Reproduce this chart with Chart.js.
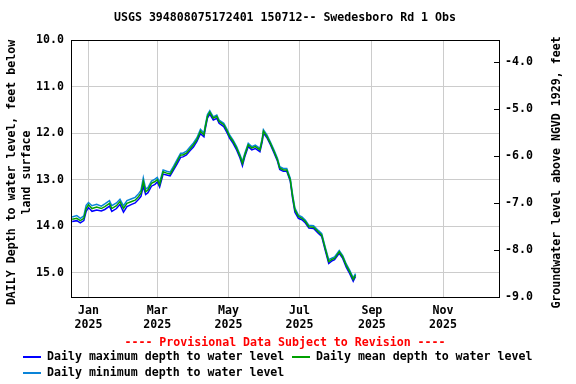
<!DOCTYPE html>
<html>
<head>
<meta charset="utf-8">
<script src="https://cdn.jsdelivr.net/npm/chart.js@4.4.1/dist/chart.umd.min.js"></script>
<style>
  body { margin: 0; background: #fff; }
  canvas { display: block; }
</style>
</head>
<body>
<canvas id="gwChart" width="576" height="384"></canvas>
<script>
// days since 1 Jan 2025
const days = [-14, -10, -7, -4, -2, 0, 3, 7, 11, 14, 18, 20, 24, 27, 30, 33, 37, 40, 43, 45,
  47, 49, 51, 54, 57, 59, 61, 64, 67, 70, 73, 76, 79, 81, 84, 87, 90, 93, 96, 99,
  100, 102, 104, 107, 110, 112, 116, 119, 121, 124, 127, 130, 132, 134, 137, 140, 143, 147, 149, 150,
  153, 156, 159, 162, 164, 167, 170, 173, 175, 177, 180, 183, 186, 189, 193, 197, 200, 203, 206, 209,
  211, 215, 218, 221, 224, 227, 229];

const maxDepth = [13.90, 13.88, 13.93, 13.88, 13.68, 13.60, 13.68, 13.65, 13.67, 13.64,
  13.57, 13.68, 13.62, 13.53, 13.70, 13.58, 13.53, 13.50, 13.42, 13.36,
  13.14, 13.32, 13.28, 13.14, 13.10, 13.05, 13.16, 12.88, 12.90, 12.92,
  12.79, 12.66, 12.52, 12.51, 12.47, 12.38, 12.30, 12.18, 12.01, 12.08,
  11.93, 11.68, 11.59, 11.72, 11.68, 11.79, 11.86, 12.00, 12.11, 12.22,
  12.36, 12.54, 12.70, 12.51, 12.29, 12.36, 12.33, 12.40, 12.18, 12.00,
  12.10, 12.25, 12.42, 12.60, 12.78, 12.82, 12.82, 13.03, 13.40, 13.70,
  13.83, 13.86, 13.93, 14.04, 14.05, 14.15, 14.22, 14.52, 14.80, 14.74,
  14.72, 14.58, 14.69, 14.88, 15.02, 15.18, 15.08];

const meanDepth = [13.85, 13.83, 13.88, 13.83, 13.62, 13.54, 13.62, 13.59, 13.62, 13.58,
  13.51, 13.62, 13.56, 13.47, 13.62, 13.51, 13.47, 13.44, 13.36, 13.29,
  13.04, 13.26, 13.22, 13.08, 13.04, 13.00, 13.11, 12.83, 12.86, 12.88,
  12.75, 12.61, 12.47, 12.47, 12.43, 12.34, 12.25, 12.14, 11.96, 12.04,
  11.89, 11.64, 11.55, 11.68, 11.64, 11.75, 11.82, 11.96, 12.07, 12.18,
  12.32, 12.50, 12.65, 12.47, 12.25, 12.32, 12.29, 12.36, 12.14, 11.96,
  12.07, 12.22, 12.39, 12.57, 12.75, 12.79, 12.79, 13.00, 13.36, 13.65,
  13.79, 13.83, 13.90, 14.01, 14.02, 14.12, 14.19, 14.48, 14.76, 14.71,
  14.69, 14.55, 14.66, 14.84, 14.98, 15.14, 15.05];

const minDepth = [13.80, 13.77, 13.83, 13.78, 13.55, 13.49, 13.56, 13.53, 13.57, 13.52,
  13.45, 13.56, 13.50, 13.42, 13.56, 13.45, 13.41, 13.38, 13.30, 13.23,
  12.96, 13.20, 13.17, 13.03, 12.99, 12.95, 13.06, 12.79, 12.82, 12.84,
  12.71, 12.57, 12.43, 12.43, 12.39, 12.30, 12.21, 12.10, 11.92, 12.00,
  11.85, 11.60, 11.52, 11.65, 11.61, 11.72, 11.79, 11.93, 12.04, 12.15,
  12.29, 12.47, 12.61, 12.44, 12.22, 12.29, 12.26, 12.33, 12.11, 11.93,
  12.04, 12.19, 12.36, 12.54, 12.72, 12.76, 12.76, 12.97, 13.32, 13.61,
  13.76, 13.80, 13.87, 13.98, 13.99, 14.09, 14.16, 14.45, 14.72, 14.68,
  14.66, 14.52, 14.63, 14.81, 14.95, 15.11, 15.02];

const monthTicks = [0, 59, 120, 181, 243, 304];
const monthLabels = ['Jan', 'Mar', 'May', 'Jul', 'Sep', 'Nov'];
const yearLabel = '2025';
const depthTicks = [10, 11, 12, 13, 14, 15];
const elevTicks = [-4, -5, -6, -7, -8, -9];

const seriesNames = [
  'Daily maximum depth to water level',
  'Daily mean depth to water level',
  'Daily minimum depth to water level'
];
const seriesColors = ['#0000ff', '#00a000', '#0a84d8'];

const FONT = 'bold 11.6px "DejaVu Sans Mono"';

function toPoints(vals) {
  return days.map((d, i) => ({ x: d, y: vals[i] }));
}

// texts, frame and legend drawn around the plot
const decorPlugin = {
  id: 'decor',
  beforeDraw(chart) {
    const ctx = chart.ctx;
    ctx.save();
    ctx.fillStyle = '#fff';
    ctx.fillRect(0, 0, chart.width, chart.height);
    ctx.restore();
  },
  afterDraw(chart) {
    const ctx = chart.ctx;
    const a = chart.chartArea;
    ctx.save();
    // frame
    ctx.strokeStyle = '#000';
    ctx.lineWidth = 1;
    ctx.strokeRect(Math.round(a.left) + 0.5, Math.round(a.top) + 0.5,
      Math.round(a.right - a.left), Math.round(a.bottom - a.top));

    // inward ticks of right axis
    const y2 = chart.scales.y2;
    ctx.beginPath();
    elevTicks.forEach(v => {
      const py = Math.round(y2.getPixelForValue(v)) + 0.5;
      ctx.moveTo(a.right - 5, py);
      ctx.lineTo(a.right, py);
    });
    ctx.stroke();

    ctx.font = FONT;
    ctx.fillStyle = '#000';
    ctx.textBaseline = 'middle';
    ctx.textAlign = 'center';
    ctx.fillText('USGS 394808075172401 150712-- Swedesboro Rd 1 Obs', 285, 18);

    // axis titles
    const midY = (a.top + a.bottom) / 2 + 4;
    ctx.save();
    ctx.translate(12, midY);
    ctx.rotate(-Math.PI / 2);
    ctx.fillText('DAILY Depth to water level, feet below', 0, 0);
    ctx.fillText('land surface', 0, 15);
    ctx.restore();

    ctx.save();
    ctx.translate(557, midY);
    ctx.rotate(-Math.PI / 2);
    ctx.fillText('Groundwater level above NGVD 1929, feet', 0, 0);
    ctx.restore();

    // provisional note
    ctx.fillStyle = '#ff0000';
    ctx.fillText('---- Provisional Data Subject to Revision ----', 285, 343);

    // legend
    const items = [
      { i: 0, x: 23, y: 357 },
      { i: 1, x: 292, y: 357 },
      { i: 2, x: 23, y: 373 }
    ];
    ctx.textAlign = 'left';
    items.forEach(it => {
      ctx.strokeStyle = seriesColors[it.i];
      ctx.lineWidth = 2;
      ctx.beginPath();
      ctx.moveTo(it.x, it.y);
      ctx.lineTo(it.x + 18, it.y);
      ctx.stroke();
      ctx.fillStyle = '#000';
      ctx.fillText(seriesNames[it.i], it.x + 24, it.y);
    });
    ctx.restore();
  }
};

const ctx = document.getElementById('gwChart').getContext('2d');
new Chart(ctx, {
  type: 'line',
  data: {
    datasets: [
      {
        label: seriesNames[0],
        data: toPoints(maxDepth),
        borderColor: seriesColors[0],
        borderWidth: 1.5,
        pointRadius: 0,
        order: 2
      },
      {
        label: seriesNames[1],
        data: toPoints(meanDepth),
        borderColor: seriesColors[1],
        borderWidth: 1.5,
        pointRadius: 0,
        order: 0
      },
      {
        label: seriesNames[2],
        data: toPoints(minDepth),
        borderColor: seriesColors[2],
        borderWidth: 1.5,
        pointRadius: 0,
        order: 1
      }
    ]
  },
  options: {
    responsive: false,
    animation: false,
    devicePixelRatio: 1,
    layout: { padding: { top: 40, bottom: 47, left: 0, right: 0 } },
    plugins: {
      legend: { display: false },
      tooltip: { enabled: false }
    },
    scales: {
      x: {
        type: 'linear',
        min: -15,
        max: 352,
        afterFit: s => { s.height = 40; },
        afterBuildTicks: s => { s.ticks = monthTicks.map(v => ({ value: v })); },
        grid: { color: '#cccccc', drawTicks: false },
        border: { display: false },
        ticks: {
          autoSkip: false,
          maxRotation: 0,
          padding: 7,
          color: '#000',
          font: { family: 'DejaVu Sans Mono', size: 11.6, weight: 'bold', lineHeight: 1.2 },
          callback: v => [monthLabels[monthTicks.indexOf(v)], yearLabel]
        }
      },
      y: {
        type: 'linear',
        position: 'left',
        reverse: true,
        min: 10,
        max: 15.52,
        afterFit: s => { s.width = 71; },
        afterBuildTicks: s => { s.ticks = depthTicks.map(v => ({ value: v })); },
        grid: { color: '#cccccc', drawTicks: false },
        border: { display: false },
        ticks: {
          padding: 7,
          color: '#000',
          font: { family: 'DejaVu Sans Mono', size: 11.6, weight: 'bold' },
          callback: v => v.toFixed(1)
        }
      },
      y2: {
        type: 'linear',
        position: 'right',
        min: -9,
        max: -3.53,
        afterFit: s => { s.width = 77; },
        afterBuildTicks: s => { s.ticks = elevTicks.map(v => ({ value: v })); },
        grid: { drawOnChartArea: false, drawTicks: false },
        border: { display: false },
        ticks: {
          padding: 6,
          color: '#000',
          font: { family: 'DejaVu Sans Mono', size: 11.6, weight: 'bold' },
          callback: v => v.toFixed(1)
        }
      }
    }
  },
  plugins: [decorPlugin]
});
</script>
</body>
</html>
